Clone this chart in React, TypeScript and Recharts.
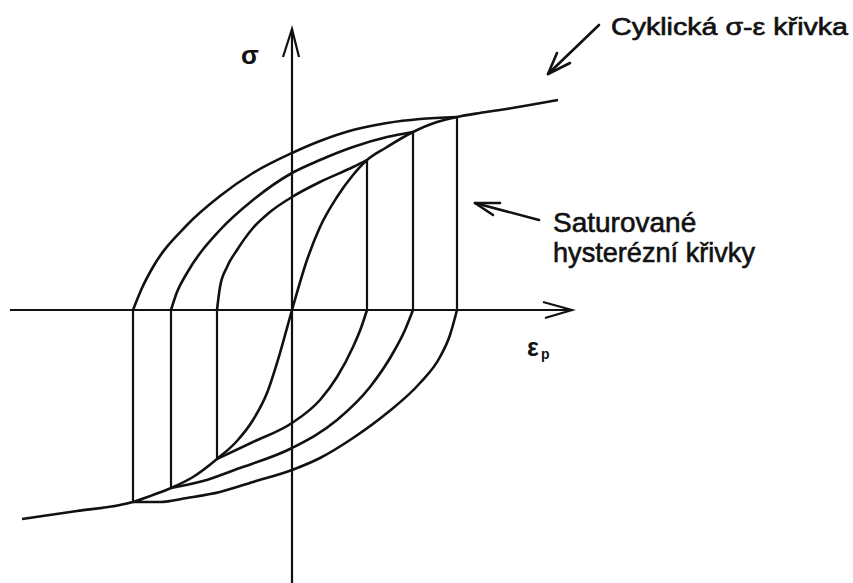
import { LineChart, Line, XAxis, YAxis } from "recharts"

// σ-ε_p diagram: cyclic curve with saturated hysteresis loops
// units: x = plastic strain, y = stress (arbitrary, origin at the axis crossing)

const cyclicCurve = [
  { x: -270, y: -209 }, { x: -215, y: -201 }, { x: -172, y: -195 }, { x: -159, y: -192 },
  { x: -139, y: -185 }, { x: -121, y: -178 }, { x: -99, y: -167 }, { x: -75, y: -149 },
  { x: -55, y: -131 }, { x: -39, y: -110 }, { x: -25, y: -83 }, { x: -12, y: -43 },
  { x: 0, y: 0 }, { x: 15, y: 50 }, { x: 28, y: 83 }, { x: 45, y: 113 }, { x: 61, y: 135 },
  { x: 75, y: 150 }, { x: 95, y: 163 }, { x: 121, y: 178 }, { x: 145, y: 188 },
  { x: 165, y: 193 }, { x: 188, y: 197 }, { x: 208, y: 200 }, { x: 266, y: 210 },
]

const outerUpper = [
  { x: -159, y: 0 }, { x: -150, y: 22 }, { x: -139, y: 43 }, { x: -105, y: 85 },
  { x: -72, y: 114 }, { x: -39, y: 137 }, { x: 0, y: 157 }, { x: 28, y: 169 },
  { x: 61, y: 180 }, { x: 95, y: 187 }, { x: 128, y: 191 }, { x: 165, y: 193 },
]
const middleUpper = [
  { x: -121, y: 0 }, { x: -115, y: 18 }, { x: -105, y: 37 }, { x: -72, y: 80 },
  { x: -39, y: 110 }, { x: 0, y: 137 }, { x: 28, y: 150 }, { x: 61, y: 163 },
  { x: 95, y: 173 }, { x: 121, y: 178 },
]
const innerUpper = [
  { x: -75, y: 0 }, { x: -72, y: 23 }, { x: -65, y: 43 }, { x: -55, y: 60 },
  { x: -39, y: 82 }, { x: -22, y: 98 }, { x: 0, y: 113 }, { x: 28, y: 128 },
  { x: 61, y: 143 }, { x: 75, y: 150 },
]

const outerLower = [
  { x: -159, y: -192 }, { x: -132, y: -192 }, { x: -105, y: -188 }, { x: -72, y: -182 },
  { x: -39, y: -172 }, { x: 0, y: -160 }, { x: 28, y: -148 }, { x: 61, y: -128 },
  { x: 95, y: -103 }, { x: 128, y: -73 }, { x: 148, y: -47 }, { x: 158, y: -25 }, { x: 165, y: 0 },
]
const middleLower = [
  { x: -121, y: -178 }, { x: -89, y: -171 }, { x: -55, y: -159 }, { x: 0, y: -138 },
  { x: 45, y: -110 }, { x: 78, y: -77 }, { x: 101, y: -43 }, { x: 113, y: -20 }, { x: 121, y: 0 },
]
const innerLower = [
  { x: -75, y: -149 }, { x: -39, y: -132 }, { x: 0, y: -113 }, { x: 28, y: -90 },
  { x: 45, y: -67 }, { x: 61, y: -37 }, { x: 69, y: -18 }, { x: 75, y: 0 },
]

// loop tips (elastic unloading runs straight down/up to the strain axis)
const leftTips = [{ x: -159, y: -192 }, { x: -121, y: -178 }, { x: -75, y: -149 }]
const rightTips = [{ x: 165, y: 193 }, { x: 121, y: 178 }, { x: 75, y: 150 }]

const xAxisLine = [{ x: -282, y: 0 }, { x: 280, y: 0 }]
const xAxisHead = [{ x: 251, y: 8 }, { x: 280, y: 0 }, { x: 253, y: -8 }]
const yAxisLine = [{ x: 0, y: -273 }, { x: 0, y: 281 }]
const yAxisHead = [{ x: -9, y: 253 }, { x: 0, y: 281 }, { x: 7, y: 253 }]

const cyclicPointer = [{ x: 307, y: 285 }, { x: 256, y: 236 }]
const cyclicPointerHead = [{ x: 265, y: 257 }, { x: 256, y: 236 }, { x: 278, y: 247 }]
const loopPointer = [{ x: 247, y: 90 }, { x: 183, y: 107 }]
const loopPointerHead = [{ x: 208, y: 107 }, { x: 183, y: 107 }, { x: 201, y: 95 }]

const INK = "#111"
const FONT = "'Liberation Sans', Arial, sans-serif"

const curves = [cyclicCurve, outerUpper, middleUpper, innerUpper, outerLower, middleLower, innerLower]
const straight = [
  xAxisLine, xAxisHead, yAxisLine, yAxisHead,
  ...leftTips.map((t) => [{ x: t.x, y: 0 }, t]),
  ...rightTips.map((t) => [t, { x: t.x, y: 0 }]),
]
const pointers = [cyclicPointer, cyclicPointerHead, loopPointer, loopPointerHead]

export default function App() {
  return (
    <div style={{ position: "absolute", left: 0, top: 0, width: 853, height: 583, background: "#fff" }}>
      <LineChart width={853} height={583} margin={{ top: 0, right: 0, bottom: 0, left: 0 }}>
        <XAxis type="number" dataKey="x" domain={[-292, 561]} allowDataOverflow hide />
        <YAxis type="number" dataKey="y" domain={[-273, 310]} allowDataOverflow hide />
        {straight.map((d, i) => (
          <Line key={"s" + i} data={d} dataKey="y" type="linear" stroke={INK} strokeWidth={2.2}
            dot={false} activeDot={false} isAnimationActive={false} />
        ))}
        {curves.map((d, i) => (
          <Line key={"c" + i} data={d} dataKey="y" type="monotone" stroke={INK} strokeWidth={2.6}
            dot={false} activeDot={false} isAnimationActive={false} />
        ))}
        {pointers.map((d, i) => (
          <Line key={"p" + i} data={d} dataKey="y" type="linear" stroke={INK} strokeWidth={2.6}
            strokeLinecap="round" strokeLinejoin="round" dot={false} activeDot={false}
            isAnimationActive={false} />
        ))}
      </LineChart>
      <svg width={853} height={583} style={{ position: "absolute", left: 0, top: 0, pointerEvents: "none" }}>
        <g fill={INK} fontFamily={FONT}>
          <text x={250} y={64} fontSize={26} fontWeight="bold" textAnchor="middle">σ</text>
          <text x={527} y={356} fontSize={25} fontWeight="bold">ε</text>
          <text x={541} y={359} fontSize={14} fontWeight="bold">p</text>
          <g stroke={INK} strokeWidth={0.6}>
            <text x={611} y={35} fontSize={23} textLength={237} lengthAdjust="spacingAndGlyphs">Cyklická σ-ε křivka</text>
            <text x={553} y={232} fontSize={28}>Saturované</text>
            <text x={553} y={262} fontSize={28} textLength={202} lengthAdjust="spacingAndGlyphs">hysterézní křivky</text>
          </g>
        </g>
      </svg>
    </div>
  )
}
